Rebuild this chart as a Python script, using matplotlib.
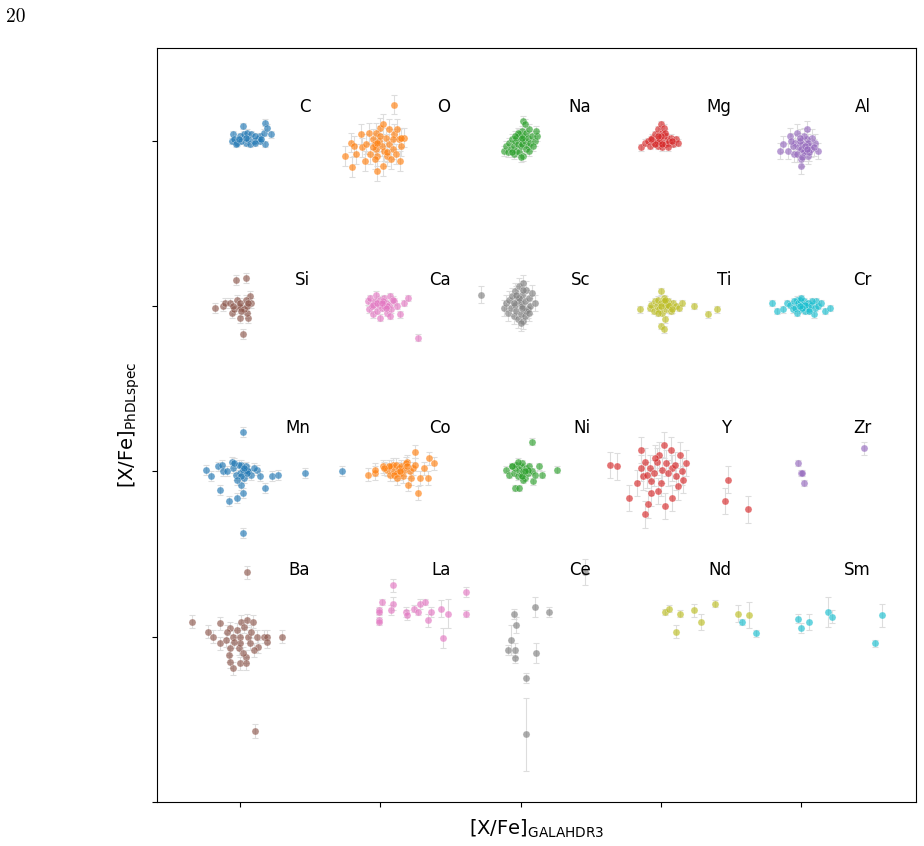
import matplotlib
matplotlib.use("Agg")
import matplotlib.pyplot as plt

# element grid, row by row (top to bottom), column by column
element_rows = [["C", "O", "Na", "Mg", "Al"],
                ["Si", "Ca", "Sc", "Ti", "Cr"],
                ["Mn", "Co", "Ni", "Y", "Zr"],
                ["Ba", "La", "Ce", "Nd", "Sm"]]

# [X/Fe]: x = GALAH DR3, y = PhDLspec, err = y uncertainty
C_x = [-0.05, -0.06, -0.02, 0.00, 0.02, 0.03, 0.04, 0.05, 0.07, 0.08, 0.10, 0.13, 0.14, 0.17,
       0.18, 0.19, 0.22, 0.18, -0.04, 0.01, -0.03, 0.06, 0.14, 0.11, 0.04, -0.01, 0.11, 0.15]
C_y = [0.04, 0.00, -0.01, 0.03, 0.09, 0.04, -0.01, 0.05, -0.02, 0.04, 0.00, 0.01, 0.03, 0.05,
       0.11, 0.08, 0.04, -0.02, 0.01, 0.00, -0.02, 0.01, 0.00, 0.03, 0.02, 0.01, -0.01, 0.01]
C_err = 0.02

O_x = [0.10, -0.25, -0.20, -0.21, -0.19, -0.17, -0.14, -0.13, -0.11, -0.10, -0.08, -0.05, -0.04,
       -0.03, -0.02, -0.02, -0.01, 0.00, 0.01, 0.02, 0.02, 0.03, 0.04, 0.05, 0.06, 0.06, 0.08,
       0.09, 0.10, 0.12, 0.13, 0.14, 0.15, 0.17, 0.15, -0.04, -0.07, -0.03, 0.00, -0.05, -0.02,
       0.05, 0.09, 0.11]
O_y = [0.22, -0.09, -0.16, -0.01, -0.03, -0.08, 0.04, -0.04, -0.12, -0.02, 0.05, 0.01, -0.02,
       -0.05, -0.18, -0.09, 0.00, 0.08, -0.03, -0.15, 0.10, -0.06, 0.02, -0.09, 0.07, -0.02, -0.11,
       -0.05, 0.04, 0.07, 0.01, -0.12, -0.03, 0.02, 0.02, -0.11, -0.08, 0.05, 0.03, -0.04, -0.01,
       -0.07, 0.01, -0.08]
O_err = 0.06

Na_x = [-0.12, -0.10, -0.09, -0.08, -0.07, -0.06, -0.05, -0.05, -0.04, -0.03, -0.03, -0.02, -0.01,
        -0.01, 0.00, 0.00, 0.01, 0.01, 0.02, 0.02, 0.03, 0.04, 0.05, 0.05, 0.06, 0.07, 0.08, 0.10,
        0.12, 0.02, 0.04, -0.02, 0.00, 0.06, 0.09, -0.06, 0.03, 0.11, 0.01, -0.04]
Na_y = [-0.06, -0.03, -0.07, -0.01, -0.05, 0.01, -0.03, -0.08, 0.00, -0.06, 0.02, -0.02, 0.04,
        -0.07, 0.01, -0.03, 0.06, -0.02, 0.03, -0.09, 0.00, 0.05, -0.03, 0.02, 0.07, -0.01, 0.03,
        0.00, 0.03, 0.12, -0.05, 0.05, -0.10, -0.06, -0.03, -0.07, 0.10, 0.06, 0.02, 0.03]
Na_err = 0.03

Mg_x = [-0.14, -0.11, -0.09, -0.08, -0.06, -0.05, -0.04, -0.03, -0.02, -0.02, -0.01, 0.00, 0.00,
        0.01, 0.01, 0.02, 0.03, 0.04, 0.05, 0.06, 0.07, 0.09, 0.11, 0.12, -0.01, 0.02, -0.04, 0.03,
        0.00, 0.05, -0.07, 0.08, -0.02, 0.01]
Mg_y = [-0.04, -0.01, 0.00, -0.03, 0.02, -0.01, 0.04, 0.00, 0.07, -0.03, 0.02, 0.10, -0.01, 0.05,
        -0.04, 0.01, -0.02, 0.03, -0.01, 0.00, 0.02, -0.02, 0.01, -0.01, 0.00, 0.08, -0.02, 0.05,
        0.03, -0.04, 0.01, 0.00, 0.03, -0.02]
Mg_err = 0.02

Al_x = [-0.08, -0.13, -0.15, -0.09, -0.04, 0.00, 0.04, -0.03, 0.10, 0.12, 0.05, 0.00, -0.05, 0.08,
        -0.02, 0.01, 0.03, 0.06, -0.01, 0.02, 0.04, 0.07, -0.06, 0.00, 0.02, 0.05, -0.03, 0.09,
        0.01, -0.01, 0.03, 0.06, -0.07, 0.04]
Al_y = [0.03, -0.02, -0.06, -0.06, -0.01, -0.15, 0.07, 0.05, -0.01, -0.06, -0.09, -0.11, -0.08,
        0.02, -0.04, -0.02, -0.06, -0.03, 0.00, -0.07, 0.01, -0.05, -0.03, -0.05, 0.03, -0.01,
        -0.08, -0.04, -0.10, 0.02, -0.03, -0.07, 0.00, -0.05]
Al_err = 0.05

Si_x = [-0.03, 0.04, -0.18, -0.12, -0.11, -0.07, 0.01, 0.07, 0.08, 0.00, 0.06, 0.02, -0.06, 0.05,
        -0.02, 0.04, -0.01, 0.03, 0.00, 0.05, -0.04, 0.01, -0.05, 0.06]
Si_y = [0.16, 0.17, -0.01, 0.00, 0.02, 0.02, -0.01, 0.06, 0.02, -0.07, -0.07, -0.17, -0.04, -0.04,
        0.04, 0.04, 0.00, -0.02, 0.02, 0.00, -0.02, -0.03, 0.00, 0.02]
Si_err = 0.03

Ca_x = [-0.09, -0.08, -0.07, -0.06, -0.05, -0.04, -0.03, -0.02, -0.01, 0.00, 0.01, 0.02, 0.03,
        0.03, 0.04, 0.05, 0.06, 0.07, 0.08, 0.10, 0.12, 0.14, 0.17, 0.20, 0.27, -0.05, 0.00, 0.02,
        0.05, 0.09, -0.02, 0.04, 0.07, 0.01]
Ca_y = [0.03, -0.02, 0.05, 0.00, -0.05, 0.03, 0.07, -0.03, 0.01, 0.04, -0.01, 0.02, 0.00, 0.05,
        0.02, -0.04, 0.01, 0.06, -0.02, 0.03, 0.00, -0.05, 0.02, 0.05, -0.19, 0.01, -0.07, 0.03,
        0.00, 0.04, 0.02, -0.01, -0.06, 0.02]
Ca_err = 0.02

Sc_x = [-0.28, -0.12, -0.10, -0.09, -0.08, -0.07, -0.06, -0.05, -0.04, -0.04, -0.03, -0.02, -0.02,
        -0.01, 0.00, 0.00, 0.01, 0.01, 0.02, 0.02, 0.03, 0.04, 0.05, 0.06, 0.07, 0.08, 0.10, 0.03,
        -0.01, 0.00, 0.04, -0.05, 0.02, 0.06, -0.03, 0.01]
Sc_y = [0.07, -0.01, 0.02, -0.04, 0.04, -0.01, 0.06, -0.06, 0.01, 0.09, -0.03, 0.04, -0.08, 0.12,
        0.02, -0.05, 0.07, 0.00, 0.14, -0.09, 0.03, 0.10, -0.02, 0.05, 0.00, 0.08, 0.02, -0.06,
        0.05, -0.10, -0.03, 0.02, 0.10, -0.04, 0.07, -0.01]
Sc_err = 0.05

Ti_x = [-0.15, -0.08, 0.00, 0.03, 0.00, 0.02, 0.24, 0.34, 0.40, -0.07, -0.05, -0.04, -0.03, -0.02,
        -0.01, 0.00, 0.01, 0.02, 0.03, 0.04, 0.05, 0.06, 0.07, 0.09, 0.11, 0.13, 0.15, -0.02, 0.02,
        0.05, 0.08, 0.00, 0.03]
Ti_y = [-0.02, -0.01, 0.09, -0.08, -0.12, -0.14, 0.00, -0.05, -0.02, 0.01, -0.03, 0.03, 0.00,
        0.04, -0.02, 0.02, -0.04, 0.05, 0.01, -0.02, 0.03, 0.00, -0.03, 0.02, 0.00, -0.01, 0.02,
        -0.04, 0.03, 0.01, -0.02, 0.00, 0.04]
Ti_err = 0.02

Cr_x = [-0.21, -0.17, -0.13, -0.10, 0.02, 0.09, 0.11, 0.17, 0.21, -0.03, -0.08, -0.06, -0.05,
        -0.04, -0.02, -0.01, 0.00, 0.01, 0.02, 0.03, 0.04, 0.05, 0.06, 0.07, 0.08, 0.10, 0.12,
        0.14, -0.03, 0.00, 0.03, 0.06, 0.01, -0.01]
Cr_y = [0.02, -0.03, -0.02, 0.02, 0.00, -0.05, 0.03, -0.03, -0.01, 0.04, 0.01, -0.02, 0.03, -0.01,
        0.02, 0.04, -0.02, 0.01, 0.03, -0.03, 0.00, 0.02, -0.02, 0.01, 0.03, -0.01, 0.00, 0.02,
        -0.04, 0.05, 0.01, -0.03, -0.01, 0.00]
Cr_err = 0.02

Mn_x = [0.02, 0.02, -0.24, -0.21, -0.16, -0.13, -0.12, -0.14, -0.08, -0.02, 0.01, 0.02, -0.06,
        0.01, 0.05, 0.12, 0.14, 0.18, 0.23, 0.27, 0.46, 0.73, -0.05, -0.03, -0.01, 0.00, 0.02, 0.03,
        0.04, 0.06, 0.08, 0.10, -0.09, -0.04, 0.01, 0.05, 0.03, -0.02]
Mn_y = [0.24, -0.37, 0.01, -0.03, 0.03, 0.04, 0.00, -0.11, -0.18, -0.16, -0.08, -0.13, 0.06, 0.04,
        0.01, 0.01, -0.03, -0.10, -0.03, -0.02, -0.01, 0.00, 0.02, -0.02, 0.04, -0.01, 0.01, -0.04,
        0.03, 0.00, -0.02, 0.02, 0.00, 0.05, -0.03, -0.01, 0.02, -0.05]
Mn_err = 0.03

Co_x = [-0.09, -0.04, -0.04, 0.02, 0.09, 0.19, 0.25, 0.35, 0.38, 0.31, 0.22, 0.28, 0.34, 0.20,
        0.27, 0.14, 0.05, 0.07, 0.08, 0.10, 0.11, 0.12, 0.13, 0.15, 0.16, 0.17, 0.18, 0.21, 0.23,
        0.06, 0.10, 0.14, 0.19, 0.12, 0.03, 0.25]
Co_y = [-0.02, -0.01, 0.01, 0.03, 0.04, 0.06, 0.12, 0.08, 0.05, 0.02, -0.04, -0.04, -0.04, -0.08,
        -0.13, -0.01, 0.01, -0.02, 0.03, 0.00, 0.04, -0.01, 0.02, 0.03, -0.03, 0.01, 0.05, 0.00,
        0.02, 0.03, -0.02, 0.00, 0.03, -0.04, 0.02, 0.04]
Co_err = 0.04

Ni_x = [0.08, 0.26, 0.13, 0.15, 0.09, -0.04, -0.01, -0.10, -0.08, -0.06, -0.05, -0.04, -0.03,
        -0.02, -0.01, 0.00, 0.00, 0.01, 0.02, 0.03, 0.04, 0.05, 0.06, 0.08, 0.10, -0.02, 0.02,
        0.05, -0.06, 0.01, 0.03]
Ni_y = [0.18, 0.01, 0.03, -0.02, -0.06, -0.10, -0.10, 0.01, -0.02, 0.03, -0.01, 0.02, 0.04, -0.03,
        0.01, 0.03, -0.02, 0.05, 0.00, -0.04, 0.02, -0.01, 0.03, 0.00, -0.02, 0.06, -0.05, 0.01,
        0.03, -0.03, 0.00]
Ni_err = 0.02

Y_x = [-0.36, -0.31, 0.02, -0.14, 0.14, 0.18, 0.16, 0.15, -0.23, -0.11, -0.09, -0.07, -0.02, 0.03,
       0.08, -0.17, -0.13, -0.07, 0.00, 0.11, -0.11, 0.04, 0.07, -0.01, -0.03, 0.08, -0.08, 0.01,
       -0.14, -0.05, 0.48, 0.46, 0.62, 0.05, -0.04, 0.10, -0.10, 0.12]
Y_y = [0.04, 0.03, 0.16, 0.13, 0.10, 0.05, -0.05, 0.00, -0.16, -0.26, -0.20, -0.13, -0.12, -0.21,
       -0.16, -0.07, -0.03, -0.06, -0.07, -0.03, 0.06, 0.05, 0.13, 0.10, 0.06, 0.02, 0.02, 0.01,
       0.02, -0.01, -0.05, -0.18, -0.23, -0.01, 0.08, 0.04, -0.02, -0.09]
Y_err = 0.08

Zr_x = [-0.02, 0.00, 0.01, 0.02, 0.45]
Zr_y = [0.05, -0.01, -0.01, -0.07, 0.14]
Zr_err = [0.02, 0.02, 0.02, 0.02, 0.04]

Ba_x = [0.05, 0.11, -0.34, -0.23, -0.19, -0.14, -0.14, -0.07, -0.09, 0.01, 0.05, 0.09, -0.05,
        0.00, 0.06, 0.12, 0.17, 0.19, 0.19, 0.30, -0.07, -0.01, 0.04, 0.13, -0.08, -0.07, 0.00,
        0.04, -0.05, 0.00, -0.04, 0.07, -0.02, 0.03, 0.08, -0.10, 0.10, 0.02]
Ba_y = [0.39, -0.57, 0.09, 0.03, 0.00, 0.08, -0.04, 0.05, 0.03, 0.09, 0.10, 0.09, 0.00, 0.00,
        0.00, 0.00, 0.00, 0.00, -0.03, 0.00, -0.07, -0.07, -0.12, -0.06, -0.11, -0.15, -0.16,
        -0.16, -0.19, -0.04, -0.03, -0.04, 0.04, 0.06, 0.03, -0.02, -0.08, -0.10]
Ba_err = 0.04

La_x = [-0.01, -0.01, -0.01, -0.01, 0.01, 0.09, 0.09, 0.08, 0.18, 0.19, 0.24, 0.28, 0.32, 0.27,
        0.36, 0.34, 0.43, 0.45, 0.48, 0.61, 0.61]
La_y = [0.16, 0.15, 0.10, 0.09, 0.21, 0.31, 0.20, 0.16, 0.15, 0.13, 0.17, 0.20, 0.21, 0.15, 0.15,
        0.10, 0.17, -0.01, 0.14, 0.27, 0.14]
La_err = [0.02, 0.02, 0.02, 0.02, 0.02, 0.04, 0.04, 0.03, 0.03, 0.03, 0.02, 0.03, 0.02, 0.02,
          0.03, 0.04, 0.05, 0.06, 0.09, 0.03, 0.02]

Ce_x = [-0.05, -0.03, -0.07, -0.09, -0.04, -0.04, 0.04, 0.04, 0.10, 0.11, 0.20, 0.46]
Ce_y = [0.14, 0.07, -0.02, -0.08, -0.08, -0.13, -0.25, -0.59, 0.18, -0.10, 0.15, 0.39]
Ce_err = [0.03, 0.05, 0.09, 0.03, 0.04, 0.03, 0.03, 0.22, 0.06, 0.06, 0.03, 0.08]

Nd_x = [0.03, 0.06, 0.11, 0.14, 0.24, 0.29, 0.39, 0.55, 0.63]
Nd_y = [0.15, 0.17, 0.03, 0.14, 0.16, 0.09, 0.20, 0.14, 0.13]
Nd_err = [0.02, 0.02, 0.04, 0.02, 0.04, 0.05, 0.02, 0.05, 0.08]

Sm_x = [-0.42, -0.32, -0.02, 0.00, 0.06, 0.19, 0.22, 0.53, 0.58]
Sm_y = [0.09, 0.02, 0.11, 0.05, 0.09, 0.15, 0.12, -0.04, 0.13]
Sm_err = [0.02, 0.02, 0.03, 0.03, 0.05, 0.09, 0.04, 0.02, 0.07]

data = {
    "C": (C_x, C_y, C_err), "O": (O_x, O_y, O_err), "Na": (Na_x, Na_y, Na_err),
    "Mg": (Mg_x, Mg_y, Mg_err), "Al": (Al_x, Al_y, Al_err), "Si": (Si_x, Si_y, Si_err),
    "Ca": (Ca_x, Ca_y, Ca_err), "Sc": (Sc_x, Sc_y, Sc_err), "Ti": (Ti_x, Ti_y, Ti_err),
    "Cr": (Cr_x, Cr_y, Cr_err), "Mn": (Mn_x, Mn_y, Mn_err), "Co": (Co_x, Co_y, Co_err),
    "Ni": (Ni_x, Ni_y, Ni_err), "Y": (Y_x, Y_y, Y_err), "Zr": (Zr_x, Zr_y, Zr_err),
    "Ba": (Ba_x, Ba_y, Ba_err), "La": (La_x, La_y, La_err), "Ce": (Ce_x, Ce_y, Ce_err),
    "Nd": (Nd_x, Nd_y, Nd_err), "Sm": (Sm_x, Sm_y, Sm_err),
}

# vertical position of the element name above each row's zero point
label_dy = [0.205, 0.157, 0.26, 0.405]

colors = plt.rcParams["axes.prop_cycle"].by_key()["color"]

fig = plt.figure(figsize=(9.24, 8.46), dpi=100)
ax = fig.add_axes([157 / 924, 44 / 846, 759 / 924, 754 / 846])

k = 0
for row, names in enumerate(element_rows):
    for col, el in enumerate(names):
        xs, ys, err = data[el]
        px = [v + col for v in xs]
        py = [v - row for v in ys]
        c = colors[k % len(colors)]
        ax.errorbar(px, py, yerr=err, fmt="none", ecolor="#dddddd",
                    elinewidth=0.8, capsize=2, capthick=0.8, zorder=1)
        ax.scatter(px, py, s=26, color=c, alpha=0.65, edgecolors="white",
                   linewidths=0.3, zorder=2)
        ax.text(col + 0.5, -row + label_dy[row], el, ha="right", va="center",
                fontsize=12)
        k += 1

ax.set_xlim(-0.592, 4.82)
ax.set_ylim(-4.0, 0.562)
ax.set_xticks(range(5))
ax.set_yticks([0, -1, -2, -3, -4])
ax.set_xticklabels([])
ax.set_yticklabels([])
ax.set_xlabel(r"[X/Fe]$_{\rm GALAHDR3}$", fontsize=14)
ax.set_ylabel(r"[X/Fe]$_{\rm PhDLspec}$", fontsize=14)

fig.text(6 / 924, 1 - 22 / 846, "20", family="cmr10", fontsize=14, ha="left", va="baseline")

fig.savefig("out.png", dpi=100)
